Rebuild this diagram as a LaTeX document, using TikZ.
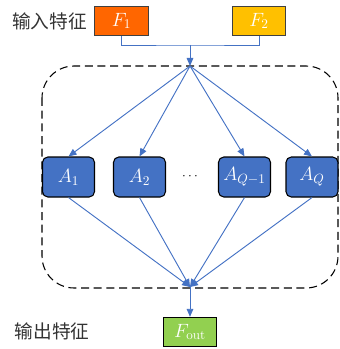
\documentclass[tikz,border=0pt]{standalone}
\usepackage{fontspec}
\newfontfamily\cjk{Noto Sans CJK SC}
\usepackage{tikz}
\usetikzlibrary{arrows.meta, positioning, calc}
\definecolor{featred}{HTML}{FF6600}
\definecolor{featyel}{HTML}{FFC000}
\definecolor{featgrn}{HTML}{92D050}
\definecolor{attblue}{HTML}{4472C4}

\begin{document}
\begin{tikzpicture}[x=0.75pt, y=-0.75pt, >={Triangle[length=6pt,width=5pt]},
    every node/.style={font=\fontsize{14}{16}\selectfont},
    feat/.style={rectangle, draw=black!75, thick, minimum width=40pt, minimum height=22pt, inner sep=0pt, text=white},
    attn/.style={rectangle, draw=black, thick, rounded corners=4pt, fill=attblue, minimum width=39pt, minimum height=30pt, inner sep=0pt, text=white},
    flow/.style={draw=attblue, line width=0.7pt},
    cnlabel/.style={font=\cjk\fontsize{14}{16}\selectfont, text=black!80},
]
\useasboundingbox (0,0) rectangle (339,349);

% input features
\node[feat, fill=featred] (f1) at (121.5,21) {$F_1$};
\node[feat, fill=featyel] (f2) at (259,21) {$F_2$};
\node[cnlabel, left=2pt of f1] (inlab) {输入特征};

\coordinate (join) at (190,45);
\coordinate (top) at (190,66);
\coordinate (bot) at (190,287);

% attention group
\draw[black, thick, dash pattern=on 6pt off 3.5pt, rounded corners=24pt] (42,66) rectangle (338,288);

\node[attn] (a1) at (68.5,177) {$A_1$};
\node[attn] (a2) at (139.5,177) {$A_2$};
\node[font=\fontsize{10}{12}\selectfont] (dots) at (190,177) {$\cdots$};
\node[attn] (aq1) at (244.5,177) {$A_{Q-1}$};
\node[attn] (aq) at (312,177) {$A_Q$};

% output feature
\node[feat, fill=featgrn, draw=black] (fout) at (190,332) {$F_{\mathrm{out}}$};
\node[cnlabel] (outlab) at (52,331) {输出特征};

\draw[flow] (f1.south) |- (join) -| (f2.south);
\draw[flow, ->] (join) -- (top);
\foreach \a in {a1,a2,aq1,aq} {
  \draw[flow, ->] (top) -- (\a.north);
  \draw[flow, ->] (\a.south) -- (bot);
}
\draw[flow, ->] (bot) -- (fout.north);

\end{tikzpicture}
\end{document}
